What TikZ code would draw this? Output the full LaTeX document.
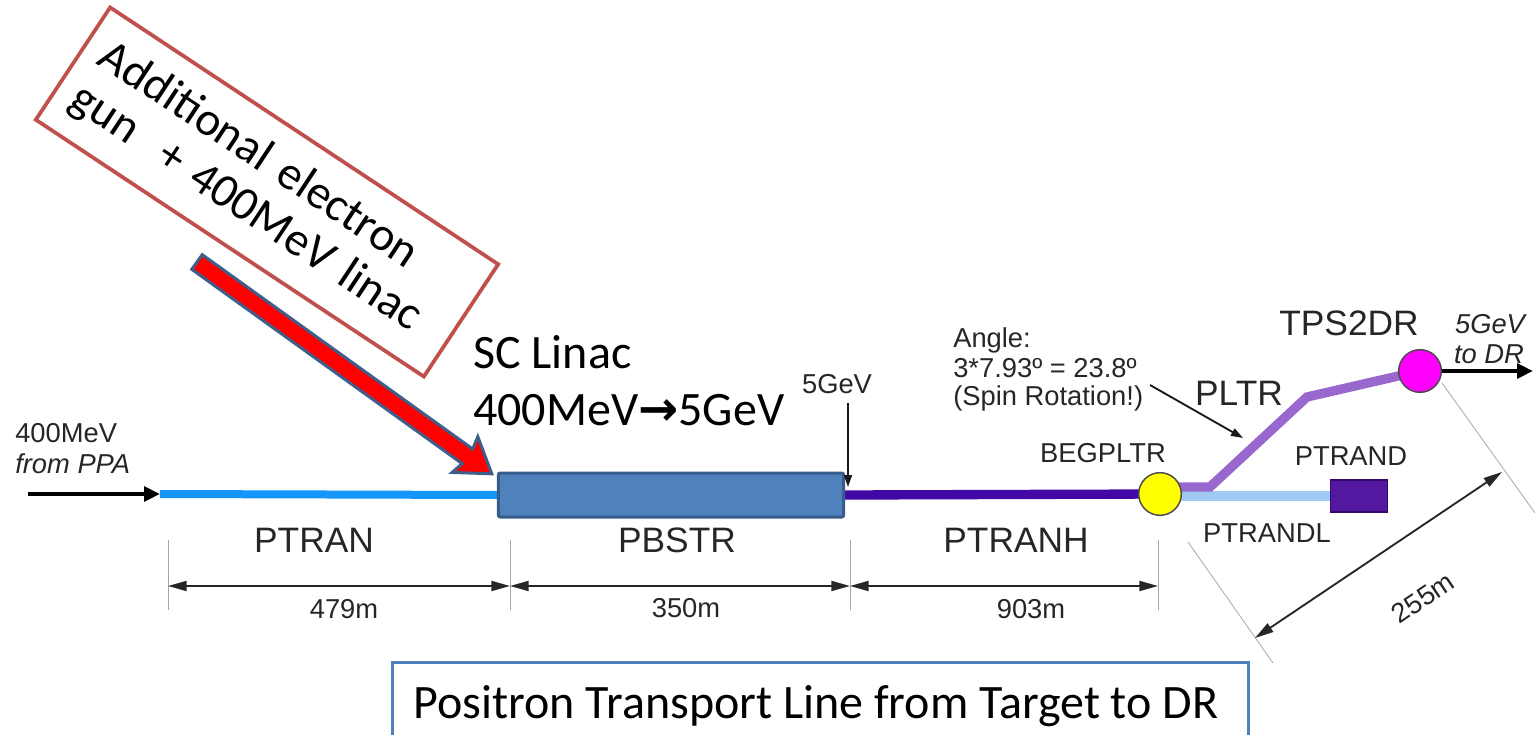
\documentclass[tikz,border=0pt]{standalone}
\usepackage{fontspec}
\setmainfont{Liberation Sans}
\newfontfamily\calfont{Carlito}
\newfontfamily\dejavu{DejaVu Sans}
\usetikzlibrary{arrows.meta}
\definecolor{boxred}{RGB}{192,80,77}
\definecolor{linacfill}{RGB}{79,129,189}
\definecolor{linacedge}{RGB}{56,93,138}
\definecolor{ptranblue}{RGB}{20,150,250}
\definecolor{ptranhcol}{RGB}{66,8,165}
\definecolor{pltrcol}{RGB}{152,104,206}
\definecolor{ptrandlcol}{RGB}{160,202,242}
\definecolor{ptrandcol}{RGB}{84,24,160}
\definecolor{ptrandedge}{RGB}{50,10,110}
\definecolor{arrowedge}{RGB}{62,95,138}
\definecolor{titleframe}{RGB}{79,129,189}
\definecolor{ringyellow}{RGB}{255,255,0}
\definecolor{ringmagenta}{RGB}{255,0,255}
\pgfdeclarelayer{bg}
\pgfsetlayers{bg,main}
\tikzset{
  lbl/.style={font=\fontsize{20.5}{24}\selectfont, text=black!85, inner sep=0pt},
  lblbig/.style={font=\fontsize{26.5}{30}\selectfont, text=black!85, inner sep=0pt},
  calib/.style={font=\calfont\fontsize{36}{42}\selectfont, inner sep=0pt},
  extline/.style={draw=black!35, line width=0.6pt},
  dimarrow/.style={line width=1.4pt, draw=black!85, {Triangle[length=14pt,width=7.5pt]}-{Triangle[length=14pt,width=7.5pt]}},
  thinarrow/.style={line width=1.4pt, draw=black!90, -{Triangle[length=9pt,width=6pt]}},
  fatarrow/.style={line width=3pt, draw=black, -{Triangle[length=12pt,width=11pt]}},
  beamline/.style={line width=7pt},
  ring/.style={circle, minimum size=32pt, inner sep=0pt, draw=black!70, line width=1.1pt},
}
\begin{document}
\begin{tikzpicture}[x=0.75pt,y=-0.75pt]
\useasboundingbox (0,0) rectangle (1535,735);

% ---------- components ----------
\node[draw=linacedge, fill=linacfill, line width=2.25pt, rounded corners=1.5pt,
      minimum width=259pt, minimum height=33pt, inner sep=0pt] (pbstr) at (671,495) {};
\node[ring, fill=ringyellow] (begpltr) at (1160,494) {};
\node[ring, fill=ringmagenta] (tps2dr) at (1420,371) {};
\node[draw=ptrandedge, fill=ptrandcol, line width=1pt, minimum width=43pt,
      minimum height=24pt, inner sep=0pt] (ptrand) at (1359,496) {};

\coordinate (inS) at (28,494);
\coordinate (ptranS) at (160,494);
\coordinate (pltrA) at (1210,487);
\coordinate (pltrB) at (1307,397);
\coordinate (outE) at (1533,371);

\begin{pgfonlayer}{bg}
  \draw[beamline, ptranblue, line width=6pt] (ptranS) -- (pbstr.west);
  \draw[beamline, ptranhcol] (pbstr.east) -- (begpltr.center);
  \draw[beamline, ptrandlcol] (begpltr.center |- ptrand.west) -- (ptrand.west);
  \draw[beamline, pltrcol, line join=miter] (begpltr.center |- pltrA) -- (pltrA) -- (pltrB) -- (tps2dr.center);
\end{pgfonlayer}

\draw[fatarrow] (inS) -- (ptranS);
\draw[fatarrow] (tps2dr.east) -- (outE);

% ---------- labels ----------
\node[lbl, anchor=base west] (in1) at (15,442) {400MeV};
\node[lbl, anchor=base west] (in2) at (15,473) {\itshape from PPA};

\node[lbl, anchor=base] (gev5) at (837,393) {5GeV};
\coordinate (gevS) at (848,403);
\coordinate (gevE) at (848,487);
\draw[thinarrow] (gevS) -- (gevE);

\node[lbl, anchor=base west] (ang1) at (953,347) {Angle:};
\node[lbl, anchor=base west] (ang2) at (953,377) {3*7.93º = 23.8º};
\node[lbl, anchor=base west] (ang3) at (953,405) {(Spin Rotation!)};
\coordinate (angS) at (1150,385);
\coordinate (angE) at (1243,438);
\draw[thinarrow] (angS) -- (angE);

\node[lbl, anchor=base] (lbegpltr) at (1103,462) {BEGPLTR};
\node[lbl, anchor=base] (lptrand) at (1351,465) {PTRAND};
\node[lbl, anchor=base] (lptrandl) at (1267,542) {PTRANDL};
\node[lblbig, anchor=base] (lpltr) at (1239,405) {PLTR};
\node[lblbig, anchor=base] (ltps) at (1349,335) {TPS2DR};
\node[lbl, anchor=base] (out1) at (1490,333) {\itshape 5GeV};
\node[lbl, anchor=base] (out2) at (1489,363) {\itshape to DR};

\node[lblbig, anchor=base] (lptran) at (314,552) {PTRAN};
\node[lblbig, anchor=base] (lpbstr) at (677,552) {PBSTR};
\node[lblbig, anchor=base] (lptranh) at (1016,552) {PTRANH};

% ---------- dimensions ----------
\foreach \n/\xx in {d1/168, d2/510, d3/850, d4/1158} {
  \coordinate (\n) at (\xx,586);
  \draw[extline] (\xx,540) -- (\xx,610);
}
\draw[dimarrow] (d1) -- (d2);
\draw[dimarrow] (d2) -- (d3);
\draw[dimarrow] (d3) -- (d4);
\node[lbl, anchor=base] (m1) at (344,618) {479m};
\node[lbl, anchor=base] (m2) at (686,617) {350m};
\node[lbl, anchor=base] (m3) at (1031,618) {903m};

\coordinate (e1a) at (1442,383);
\coordinate (e1b) at (1535,513);
\coordinate (e2a) at (1188,542);
\coordinate (e2b) at (1273,663);
\draw[extline] (e1a) -- (e1b);
\draw[extline] (e2a) -- (e2b);
\coordinate (dd1) at (1255,638);
\coordinate (dd2) at (1502,472);
\draw[dimarrow] (dd1) -- (dd2);
\node[lbl, rotate=34] (m4) at (1423,598) {255m};

% ---------- SC linac text ----------
\node[calib, anchor=base west] (sc1) at (473,368) {SC Linac};
\node[calib, anchor=base west] (sc2) at (473,425) {400MeV{\dejavu\bfseries\fontsize{36}{40}\selectfont →}5GeV};

% ---------- additional gun box ----------
\node[draw=boxred, line width=2.8pt, rotate=-33.5, minimum width=349pt, minimum height=101pt,
      text width=321pt, align=left, inner xsep=14pt, inner ysep=0pt,
      font=\calfont\fontsize{35.5}{38}\selectfont] (addbox) at (267,192)
      {Additional electron\\gun\ \ + 400MeV linac};

\begin{scope}[shift={(197,262)}, rotate=-35.7]
  \draw[fill=red, draw=arrowedge, line width=2.25pt, line join=miter]
    (0,-9) -- (333,-9) -- (330,-22) -- (363,0) -- (330,22) -- (333,9) -- (0,9) -- cycle;
\end{scope}

% ---------- title ----------
\draw[titleframe, line width=2.25pt] (392,740) -- (392,662) -- (1248,662) -- (1248,740);
\node[calib, anchor=base] (title) at (816,718) {Positron Transport Line from Target to DR};
\end{tikzpicture}
\end{document}
